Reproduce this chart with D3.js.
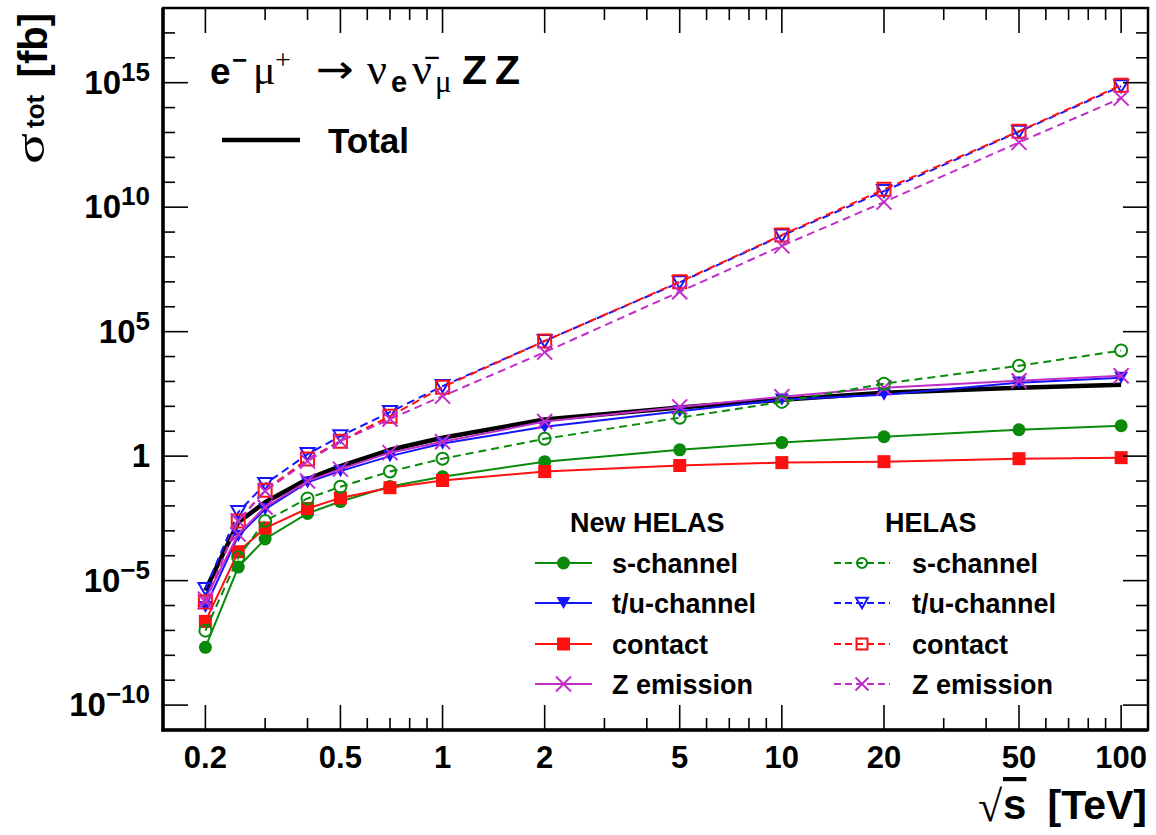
<!DOCTYPE html>
<html><head><meta charset="utf-8">
<script src="https://cdn.jsdelivr.net/npm/d3@7"></script>
<style>body{margin:0;background:#fff}</style>
</head><body><svg id="c" width="1156" height="835" xmlns="http://www.w3.org/2000/svg"></svg>
<script>
// ---------------- data ----------------
const energies = [0.2, 0.25, 0.3, 0.4, 0.5, 0.7, 1, 2, 5, 10, 20, 50, 100]; // sqrt(s) [TeV]
const totalXS      = [4.0e-6, 2.2e-3, 1.4e-2, 0.12, 0.4, 1.8, 5.5, 29.5, 89, 186, 355, 560, 740];
const newSChannel  = [2.1e-8, 3.5e-5, 4.7e-4, 5.0e-3, 1.5e-2, 6.0e-2, 0.15, 0.6, 1.8, 3.5, 6.0, 11.5, 16.6];
const newTUChannel = [8.7e-7, 6.3e-4, 7.4e-3, 8.9e-2, 0.25, 1.0, 3.2, 15, 63, 186, 295, 890, 1410];
const newContact   = [2.3e-7, 1.45e-4, 1.3e-3, 7.9e-3, 2.1e-2, 5.4e-2, 0.105, 0.24, 0.42, 0.55, 0.6, 0.79, 0.87];
const newZEmission = [1.8e-6, 7.4e-4, 8.9e-3, 0.1, 0.3, 1.38, 3.8, 24.5, 95, 245, 560, 1070, 1700];
const oldSChannel  = [9.8e-8, 8.7e-5, 2.5e-3, 2.0e-2, 5.9e-2, 0.24, 0.79, 5.0, 35, 151, 813, 4270, 17400];
const oldTUChannel = [4.6e-6, 5.6e-3, 7.6e-2, 1.2, 6.3, 59, 650, 4.2e4, 9.5e6, 7.2e8, 4.4e10, 1.07e13, 7.2e14];
const oldContact   = [1.4e-6, 2.5e-3, 4.3e-2, 0.76, 4.0, 40, 590, 4.2e4, 1.0e7, 7.6e8, 5.2e10, 1.12e13, 7.9e14];
const oldZEmission = [1.4e-6, 2.5e-3, 4.0e-2, 0.63, 4.0, 31, 257, 1.5e4, 4.0e6, 2.8e8, 1.6e10, 4.0e12, 2.4e14];

const xMajorTicks = [0.2, 0.5, 1, 2, 5, 10, 20, 50, 100];
const xTickLabels = ["0.2", "0.5", "1", "2", "5", "10", "20", "50", "100"];
const xMinorTicks = [0.3, 0.4, 0.6, 0.7, 0.8, 0.9, 3, 4, 6, 7, 8, 9, 30, 40, 60, 70, 80, 90];
const yMajorExps  = [-10, -5, 0, 5, 10, 15];
const yMinorExps  = d3.range(-11, 19);

const legendHeaders = ["New HELAS", "HELAS"];
const legendLabels  = ["s-channel", "t/u-channel", "contact", "Z emission"];

// ---------------- setup ----------------
const SANS = "'Liberation Sans', Arial, Helvetica, sans-serif";
const SERIF = "'Liberation Serif', 'Times New Roman', 'DejaVu Serif', serif";
const GREEN = "#0a8a0a", BLUE = "#1515ff", RED = "#ff1010", MAG = "#c22cc8";

const svg = d3.select("#c");
const L = 163, R = 1148, T = 8, B = 730;
const x = d3.scaleLog().domain([0.15, 120]).range([L, R]);
const y = d3.scaleLog().domain([1e-11, 1e18]).range([B, T]);

function markerPath(type, s) {
  if (type === "circle") return d3.symbol(d3.symbolCircle, s * s * 0.785)();
  if (type === "square") return `M${-s/2},${-s/2}h${s}v${s}h${-s}Z`;
  if (type === "tri") { const h = s * 0.87; return `M${-s/2},${-h/2}L${s/2},${-h/2}L0,${h/2}Z`; }
  if (type === "x") { const a = s / 2; return `M${-a},${-a}L${a},${a}M${-a},${a}L${a},${-a}`; }
}

const series = [
  {vals: newSChannel,  color: GREEN, dashed: false, m: "circle", filled: true,  size: 13},
  {vals: newTUChannel, color: BLUE,  dashed: false, m: "tri",    filled: true,  size: 14},
  {vals: newContact,   color: RED,   dashed: false, m: "square", filled: true,  size: 13},
  {vals: newZEmission, color: MAG,   dashed: false, m: "x",      filled: false, size: 15},
  {vals: oldSChannel,  color: GREEN, dashed: true,  m: "circle", filled: false, size: 12},
  {vals: oldTUChannel, color: BLUE,  dashed: true,  m: "tri",    filled: false, size: 14},
  {vals: oldContact,   color: RED,   dashed: true,  m: "square", filled: false, size: 13},
  {vals: oldZEmission, color: MAG,   dashed: true,  m: "x",      filled: false, size: 15},
];

const line = d3.line().x(d => x(d[0])).y(d => y(d[1]));
const plot = svg.append("g");

plot.append("path").attr("d", line(d3.zip(energies, totalXS)))
  .attr("fill", "none").attr("stroke", "#000").attr("stroke-width", 4.5).attr("stroke-linejoin", "round");

function drawMarker(g, s, cx, cy) {
  const p = g.append("path").attr("d", markerPath(s.m, s.size)).attr("transform", `translate(${cx},${cy})`);
  if (s.m === "x") p.attr("fill", "none").attr("stroke", s.color).attr("stroke-width", 2);
  else if (s.filled) p.attr("fill", s.color).attr("stroke", "none");
  else p.attr("fill", "none").attr("stroke", s.color).attr("stroke-width", 2);
}

series.forEach(s => {
  const data = d3.zip(energies, s.vals);
  plot.append("path").attr("d", line(data)).attr("fill", "none")
    .attr("stroke", s.color).attr("stroke-width", 2)
    .attr("stroke-dasharray", s.dashed ? "8,5" : null);
  data.forEach(d => drawMarker(plot, s, x(d[0]), y(d[1])));
});

// ---------------- frame & ticks ----------------
const ax = svg.append("g").attr("stroke", "#000");
ax.append("rect").attr("x", L).attr("y", T).attr("width", R - L).attr("height", B - T)
  .attr("fill", "none").attr("stroke-width", 2.5);
ax.append("line").attr("x1", L).attr("x2", L).attr("y1", T).attr("y2", B + 1.5).attr("stroke-width", 3.5);
ax.append("line").attr("x1", L - 1.5).attr("x2", R).attr("y1", B).attr("y2", B).attr("stroke-width", 3.5);

function xTick(v, len) {
  ax.append("line").attr("x1", x(v)).attr("x2", x(v)).attr("y1", B).attr("y2", B - len).attr("stroke-width", 1.6);
  ax.append("line").attr("x1", x(v)).attr("x2", x(v)).attr("y1", T).attr("y2", T + len).attr("stroke-width", 1.6);
}
xMajorTicks.forEach(v => xTick(v, 25));
xMinorTicks.forEach(v => xTick(v, 12));
function yTick(e, len) {
  const yy = y(Math.pow(10, e));
  ax.append("line").attr("x1", L).attr("x2", L + len).attr("y1", yy).attr("y2", yy).attr("stroke-width", 1.6);
  ax.append("line").attr("x1", R).attr("x2", R - len).attr("y1", yy).attr("y2", yy).attr("stroke-width", 1.6);
}
yMinorExps.forEach(e => { if (!yMajorExps.includes(e)) yTick(e, 12); });
yMajorExps.forEach(e => yTick(e, 25));

const txt = svg.append("g").attr("font-family", SANS).attr("font-weight", "bold").attr("fill", "#000");
xMajorTicks.forEach((v, i) => {
  txt.append("text").attr("x", x(v)).attr("y", 768).attr("text-anchor", "middle")
    .attr("font-size", 31).text(xTickLabels[i]);
});
yMajorExps.forEach(e => {
  const yy = y(Math.pow(10, e));
  const t = txt.append("text").attr("x", 150).attr("y", yy + 11).attr("text-anchor", "end").attr("font-size", 33);
  if (e === 0) { t.text("1"); return; }
  t.append("tspan").text("10");
  t.append("tspan").attr("font-size", 26).attr("dy", -13).text(e < 0 ? "\u2212" + (-e) : String(e));
});

// y axis title (rotated): sigma_tot [fb]
const yg = txt.append("g").attr("transform", "rotate(-90)");
yg.append("text").attr("x", -164).attr("y", 44).attr("font-family", SERIF).attr("font-weight", "normal")
  .attr("font-size", 42).attr("textLength", 31).attr("lengthAdjust", "spacingAndGlyphs").text("\u03C3");
yg.append("text").attr("x", -128).attr("y", 44).attr("font-size", 26).text("tot");
yg.append("text").attr("x", -13).attr("y", 47).attr("text-anchor", "end").attr("font-size", 40).text("[fb]");

// x axis title
txt.append("text").attr("x", 978).attr("y", 821).attr("font-family", SERIF).attr("font-weight", "normal")
  .attr("font-size", 44).text("\u221A");
txt.append("text").attr("x", 1003).attr("y", 819).attr("font-size", 42)
  .attr("style", "text-decoration: overline").text("s");
txt.append("text").attr("x", 1147).attr("y", 819).attr("text-anchor", "end").attr("font-size", 41).text("[TeV]");

// title  e- mu+ -> nu_e nubar_mu Z Z
const TB = 84;
const tpieces = [
  {t: "e", x: 210, dy: 0, f: SANS, w: "bold", s: 37},
  {t: "\u2212", x: 232, dy: -15, f: SANS, w: "bold", s: 26},
  {t: "\u03BC", x: 253, dy: 0, f: SERIF, w: "normal", s: 42},
  {t: "+", x: 275, dy: -15, f: SERIF, w: "normal", s: 28},
  {t: "\u2192", x: 316, dy: -1, f: "'DejaVu Sans', sans-serif", w: "normal", s: 40, len: 38},
  {t: "\u03BD", x: 367, dy: 0, f: SERIF, w: "normal", s: 44},
  {t: "e", x: 391, dy: 8, f: SANS, w: "bold", s: 29},
  {t: "\u03BD\u0304", x: 412, dy: 0, f: SERIF, w: "normal", s: 44},
  {t: "\u03BC", x: 435, dy: 8, f: SERIF, w: "normal", s: 31},
  {t: "Z", x: 462, dy: 0, f: SANS, w: "bold", s: 41},
  {t: "Z", x: 495, dy: 0, f: SANS, w: "bold", s: 41},
];
tpieces.forEach(p => {
  const e = txt.append("text").attr("x", p.x).attr("y", TB + p.dy).attr("font-family", p.f)
    .attr("font-weight", p.w).attr("font-size", p.s).text(p.t);
  if (p.len) e.attr("textLength", p.len).attr("lengthAdjust", "spacingAndGlyphs");
});

// Total legend
svg.append("line").attr("x1", 222).attr("x2", 300).attr("y1", 140).attr("y2", 140)
  .attr("stroke", "#000").attr("stroke-width", 4.5);
txt.append("text").attr("x", 328).attr("y", 153).attr("font-size", 35).text("Total");

// legend
const lg = svg.append("g");
txt.append("text").attr("x", 570).attr("y", 532).attr("font-size", 27).text(legendHeaders[0]);
txt.append("text").attr("x", 885).attr("y", 532).attr("font-size", 27).text(legendHeaders[1]);
const rowY = [563, 603, 644, 684];
const cols = [{x0: 535, x1: 592, tx: 612}, {x0: 834, x1: 890, tx: 912}];
series.forEach((s, i) => {
  const c = cols[s.dashed ? 1 : 0], r = rowY[i % 4];
  lg.append("line").attr("x1", c.x0).attr("x2", c.x1).attr("y1", r).attr("y2", r)
    .attr("stroke", s.color).attr("stroke-width", 2).attr("stroke-dasharray", s.dashed ? "7,4" : null);
  drawMarker(lg, Object.assign({}, s, {size: s.dashed ? s.size - 2 : s.size}), (c.x0 + c.x1) / 2, r);
  txt.append("text").attr("x", c.tx).attr("y", r + 10).attr("font-size", 27).text(legendLabels[i % 4]);
});
</script></body></html>
